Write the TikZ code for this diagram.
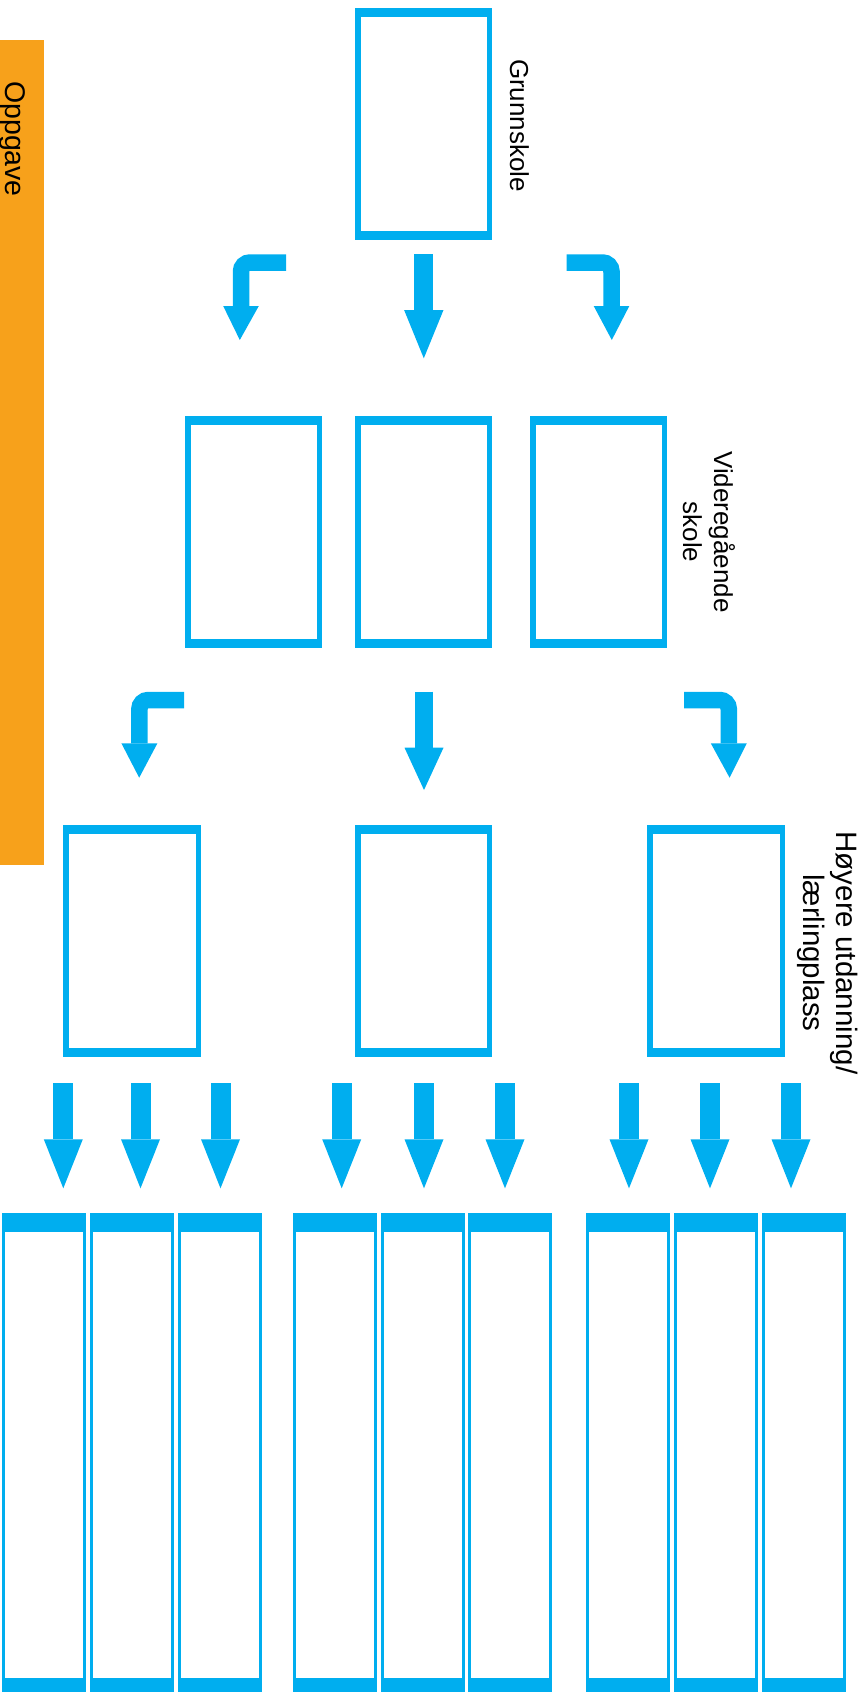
\documentclass[tikz,border=0pt]{standalone}
\usepackage{fontspec}
\setmainfont{Liberation Sans}
\definecolor{cyanb}{HTML}{00AEEF}
\definecolor{orangeb}{HTML}{F7A11B}
\tikzset{
  boxA/.style={draw=cyanb, fill=white, line width=5.5pt, inner sep=0pt,
    minimum width=131.5pt, minimum height=226.5pt,
    path picture={
      \fill[cyanb] (path picture bounding box.north west) rectangle ([yshift=-6.25pt]path picture bounding box.north east);
      \fill[cyanb] (path picture bounding box.south west) rectangle ([yshift=6.25pt]path picture bounding box.south east);}},
  colA/.style={draw=cyanb, fill=white, line width=3pt, inner sep=0pt,
    minimum width=81pt, minimum height=476pt,
    path picture={
      \fill[cyanb] (path picture bounding box.north west) rectangle ([yshift=-17.5pt]path picture bounding box.north east);
      \fill[cyanb] (path picture bounding box.south west) rectangle ([yshift=12.5pt]path picture bounding box.south east);}},
  arrowstem/.style={draw=cyanb, line width=#1},
  bentstem/.style={draw=cyanb, line width=16.5pt, rounded corners=9pt},
  headA/.style={fill=cyanb},
  lbl/.style={rotate=-90, inner sep=0pt, align=center, text=black}
}
\begin{document}
\begin{tikzpicture}[x=1pt,y=-1pt]
\useasboundingbox (0,0) rectangle (863,1692);

% orange side bar
\fill[orangeb] (0,40) rectangle (44,865);
\node[lbl, font=\fontsize{28.5}{33}\selectfont] (opp) at (12.5,139) {Oppgave};

% level 1
\node[boxA] (g) at (423.5,123.5) {};
\node[lbl, font=\fontsize{26}{31}\selectfont] (gl) at (519.5,125.5) {Grunnskole};

% level 2
\node[boxA] (v1) at (253.5,532) {};
\node[boxA] (v2) at (423.5,532) {};
\node[boxA] (v3) at (598.5,532) {};
\node[lbl, font=\fontsize{26}{31}\selectfont] (vl) at (709,532) {Videregående\\skole};

% level 3
\node[boxA, minimum width=132.5pt] (h1) at (132,941) {};
\node[boxA] (h2) at (423.5,941) {};
\node[boxA, minimum width=132.5pt] (h3) at (716,941) {};
\node[lbl, font=\fontsize{29.5}{33}\selectfont] (hl) at (828,953) {Høyere utdanning/\\lærlingplass};

% level 4 columns
\foreach \x [count=\i] in {44,132,220,335,423,510,628,716,804}{
  \node[colA] (c\i) at (\x,1452.5) {};
}

% row 1 arrows
\coordinate (r1ls) at (286,262.5);
\coordinate (r1lc) at (241,262.5);
\coordinate (r1lh) at (241,306);
\coordinate (r1lt) at (239.8,340);
\draw[bentstem] (r1ls) -- (r1lc) -- (r1lh);
\fill[headA] ([xshift=-17.8pt]r1lh) -- ([xshift=17.8pt]r1lh) -- (r1lt) -- cycle;

\coordinate (r1ms) at (423.8,254);
\coordinate (r1mh) at (423.8,310);
\coordinate (r1mt) at (423.8,358.3);
\draw[arrowstem=19pt] (r1ms) -- (r1mh);
\fill[headA] ([xshift=-19.7pt]r1mh) -- ([xshift=19.7pt]r1mh) -- (r1mt) -- cycle;

\coordinate (r1rs) at (566.7,262.5);
\coordinate (r1rc) at (611.5,262.5);
\coordinate (r1rh) at (611.5,306);
\coordinate (r1rt) at (611.8,340);
\draw[bentstem] (r1rs) -- (r1rc) -- (r1rh);
\fill[headA] ([xshift=-17.8pt]r1rh) -- ([xshift=17.8pt]r1rh) -- (r1rt) -- cycle;

% row 2 arrows
\coordinate (r2ls) at (184.2,700);
\coordinate (r2lc) at (139.4,700);
\coordinate (r2lh) at (139.4,743.3);
\coordinate (r2lt) at (139.2,777.7);
\draw[bentstem] (r2ls) -- (r2lc) -- (r2lh);
\fill[headA] ([xshift=-18pt]r2lh) -- ([xshift=18pt]r2lh) -- (r2lt) -- cycle;

\coordinate (r2ms) at (424,691.7);
\coordinate (r2mh) at (424,747.7);
\coordinate (r2mt) at (424,790);
\draw[arrowstem=18.5pt] (r2ms) -- (r2mh);
\fill[headA] ([xshift=-19.5pt]r2mh) -- ([xshift=19.5pt]r2mh) -- (r2mt) -- cycle;

\coordinate (r2rs) at (684.2,700);
\coordinate (r2rc) at (728.8,700);
\coordinate (r2rh) at (728.8,743.3);
\coordinate (r2rt) at (729.6,777.7);
\draw[bentstem] (r2rs) -- (r2rc) -- (r2rh);
\fill[headA] ([xshift=-18pt]r2rh) -- ([xshift=18pt]r2rh) -- (r2rt) -- cycle;

% row 3 arrows
\foreach \x [count=\i] in {63.3,140.5,220.5,341.7,424,505,629,710,791}{
  \coordinate (b\i s) at (\x,1083.3);
  \coordinate (b\i h) at (\x,1139.3);
  \coordinate (b\i t) at (\x,1188.3);
  \draw[arrowstem=20pt] (b\i s) -- (b\i h);
  \fill[headA] ([xshift=-19.5pt]b\i h) -- ([xshift=19.5pt]b\i h) -- (b\i t) -- cycle;
}
\end{tikzpicture}
\end{document}
